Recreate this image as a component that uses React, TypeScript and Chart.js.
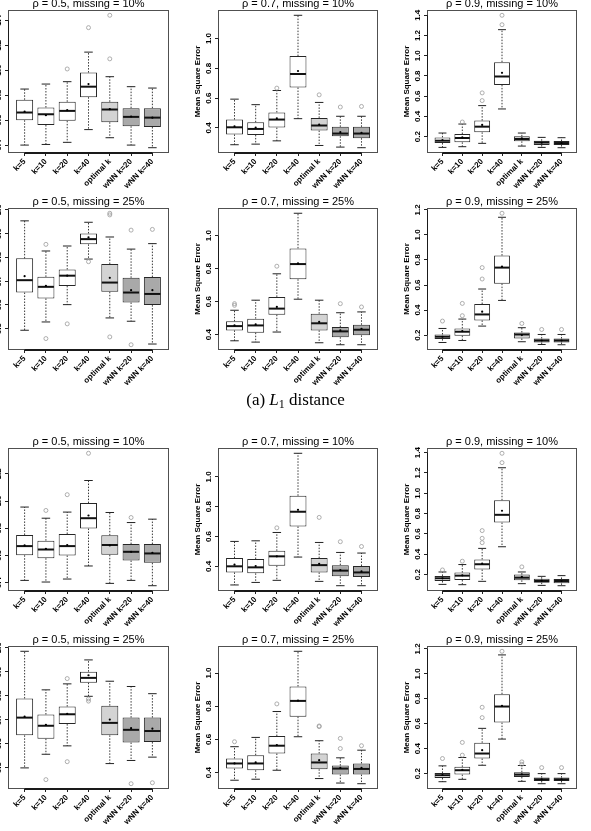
import React, { useEffect, useRef } from 'react';
import { Chart, registerables } from 'chart.js';

Chart.register(...registerables);

// ---- categories and fills -------------------------------------------------
const CATEGORIES = ['k=5', 'k=10', 'k=20', 'k=40', 'optimal k', 'wNN k=20', 'wNN k=40'];
const BOX_FILLS = ['#ffffff', '#ffffff', '#ffffff', '#ffffff', '#d3d3d3', '#a9a9a9', '#a9a9a9'];

// ---- (a) L1 distance -------------------------------------------------------
// rho = 0.5, missing = 10%
const A_R05_M10_LO = [0.400, 0.405, 0.422, 0.524, 0.459, 0.400, 0.379];
const A_R05_M10_Q1 = [0.599, 0.561, 0.594, 0.784, 0.583, 0.551, 0.545];
const A_R05_M10_MED = [0.661, 0.647, 0.674, 0.868, 0.685, 0.626, 0.620];
const A_R05_M10_Q3 = [0.763, 0.701, 0.747, 0.981, 0.747, 0.696, 0.696];
const A_R05_M10_HI = [0.849, 0.889, 0.908, 1.145, 0.948, 0.868, 0.857];
const A_R05_M10_MEAN = [0.669, 0.639, 0.680, 0.889, 0.688, 0.629, 0.620];
const A_R05_M10_OUT = [[], [], [1.010], [1.341], [1.091, 1.440], [], []];
const A_R05_M10_TICKS = [0.4, 0.6, 0.8, 1.0, 1.2, 1.4];

// rho = 0.7, missing = 10%
const A_R07_M10_LO = [0.287, 0.291, 0.313, 0.462, 0.282, 0.271, 0.267];
const A_R07_M10_Q1 = [0.356, 0.353, 0.402, 0.671, 0.382, 0.344, 0.331];
const A_R07_M10_MED = [0.404, 0.393, 0.456, 0.762, 0.416, 0.362, 0.362];
const A_R07_M10_Q3 = [0.456, 0.438, 0.504, 0.882, 0.467, 0.407, 0.407];
const A_R07_M10_HI = [0.593, 0.556, 0.651, 1.156, 0.571, 0.478, 0.478];
const A_R07_M10_MEAN = [0.411, 0.402, 0.464, 0.782, 0.422, 0.371, 0.367];
const A_R07_M10_OUT = [[], [], [0.667], [], [0.622], [0.540], [0.544]];
const A_R07_M10_TICKS = [0.4, 0.6, 0.8, 1.0];

// rho = 0.9, missing = 10%
const A_R09_M10_LO = [0.094, 0.101, 0.134, 0.474, 0.107, 0.094, 0.091];
const A_R09_M10_Q1 = [0.137, 0.144, 0.243, 0.712, 0.154, 0.117, 0.117];
const A_R09_M10_MED = [0.160, 0.187, 0.299, 0.795, 0.177, 0.144, 0.137];
const A_R09_M10_Q3 = [0.193, 0.226, 0.359, 0.937, 0.203, 0.160, 0.157];
const A_R09_M10_HI = [0.236, 0.325, 0.507, 1.258, 0.236, 0.193, 0.190];
const A_R09_M10_MEAN = [0.167, 0.193, 0.316, 0.831, 0.183, 0.140, 0.137];
const A_R09_M10_OUT = [[], [0.345], [0.557, 0.633], [1.307, 1.400], [], [], []];
const A_R09_M10_TICKS = [0.2, 0.4, 0.6, 0.8, 1.0, 1.2, 1.4];

// rho = 0.5, missing = 25%
const A_R05_M25_LO = [0.493, 0.528, 0.601, 0.793, 0.545, 0.531, 0.435];
const A_R05_M25_Q1 = [0.652, 0.627, 0.680, 0.855, 0.655, 0.610, 0.599];
const A_R05_M25_MED = [0.704, 0.676, 0.723, 0.877, 0.694, 0.652, 0.646];
const A_R05_M25_Q3 = [0.796, 0.718, 0.749, 0.901, 0.772, 0.714, 0.717];
const A_R05_M25_HI = [0.954, 0.827, 0.848, 0.948, 0.886, 0.835, 0.858];
const A_R05_M25_MEAN = [0.721, 0.680, 0.723, 0.885, 0.714, 0.662, 0.662];
const A_R05_M25_OUT = [[], [0.855, 0.458], [0.520], [0.782], [0.986, 0.979, 0.465], [0.915, 0.432], [0.918]];
const A_R05_M25_TICKS = [0.5, 0.6, 0.7, 0.8, 0.9, 1.0];

// rho = 0.7, missing = 25%
const A_R07_M25_LO = [0.363, 0.355, 0.416, 0.615, 0.351, 0.339, 0.339];
const A_R07_M25_Q1 = [0.426, 0.412, 0.521, 0.736, 0.426, 0.385, 0.396];
const A_R07_M25_MED = [0.452, 0.456, 0.558, 0.828, 0.469, 0.420, 0.430];
const A_R07_M25_Q3 = [0.481, 0.497, 0.629, 0.923, 0.527, 0.446, 0.460];
const A_R07_M25_HI = [0.548, 0.609, 0.769, 1.136, 0.609, 0.533, 0.538];
const A_R07_M25_MEAN = [0.456, 0.462, 0.568, 0.832, 0.477, 0.426, 0.436];
const A_R07_M25_OUT = [[0.588, 0.578], [], [0.815], [], [], [0.588], [0.568]];
const A_R07_M25_TICKS = [0.4, 0.6, 0.8, 1.0];

// rho = 0.9, missing = 25%
const A_R09_M25_LO = [0.141, 0.157, 0.272, 0.477, 0.147, 0.125, 0.123];
const A_R09_M25_Q1 = [0.168, 0.195, 0.317, 0.611, 0.173, 0.141, 0.141];
const A_R09_M25_MED = [0.187, 0.227, 0.365, 0.739, 0.205, 0.157, 0.157];
const A_R09_M25_Q3 = [0.205, 0.253, 0.448, 0.835, 0.221, 0.173, 0.173];
const A_R09_M25_HI = [0.253, 0.328, 0.568, 1.141, 0.259, 0.205, 0.205];
const A_R09_M25_MEAN = [0.187, 0.232, 0.387, 0.747, 0.200, 0.157, 0.157];
const A_R09_M25_OUT = [[0.312], [0.453, 0.355], [0.739, 0.648], [1.173], [0.293], [0.245], [0.245]];
const A_R09_M25_TICKS = [0.2, 0.4, 0.6, 0.8, 1.0, 1.2];

// ---- (b) second distance ---------------------------------------------------
// rho = 0.5, missing = 10%
const B_R05_M10_LO = [0.417, 0.405, 0.427, 0.523, 0.395, 0.417, 0.378];
const B_R05_M10_Q1 = [0.602, 0.580, 0.600, 0.798, 0.605, 0.563, 0.546];
const B_R05_M10_MED = [0.669, 0.644, 0.669, 0.874, 0.677, 0.627, 0.615];
const B_R05_M10_Q3 = [0.751, 0.709, 0.758, 0.985, 0.748, 0.684, 0.684];
const B_R05_M10_HI = [0.956, 0.874, 0.919, 1.151, 0.916, 0.842, 0.867];
const B_R05_M10_MEAN = [0.674, 0.649, 0.677, 0.894, 0.674, 0.627, 0.620];
const B_R05_M10_OUT = [[], [0.931], [1.047], [1.351], [], [0.879], []];
const B_R05_M10_TICKS = [0.4, 0.6, 0.8, 1.0, 1.2];

// rho = 0.7, missing = 10%
const B_R07_M10_LO = [0.275, 0.292, 0.306, 0.462, 0.299, 0.270, 0.270];
const B_R07_M10_Q1 = [0.359, 0.353, 0.404, 0.667, 0.359, 0.333, 0.328];
const B_R07_M10_MED = [0.400, 0.393, 0.467, 0.766, 0.408, 0.371, 0.359];
const B_R07_M10_Q3 = [0.455, 0.449, 0.504, 0.873, 0.455, 0.408, 0.402];
const B_R07_M10_HI = [0.567, 0.571, 0.627, 1.158, 0.560, 0.493, 0.489];
const B_R07_M10_MEAN = [0.411, 0.402, 0.467, 0.779, 0.417, 0.375, 0.366];
const B_R07_M10_OUT = [[], [], [0.658], [], [0.728], [0.565], [0.533]];
const B_R07_M10_TICKS = [0.4, 0.6, 0.8, 1.0];

// rho = 0.9, missing = 10%
const B_R09_M10_LO = [0.104, 0.101, 0.134, 0.474, 0.111, 0.094, 0.091];
const B_R09_M10_Q1 = [0.137, 0.147, 0.250, 0.712, 0.144, 0.121, 0.114];
const B_R09_M10_MED = [0.164, 0.190, 0.302, 0.788, 0.170, 0.137, 0.137];
const B_R09_M10_Q3 = [0.187, 0.220, 0.349, 0.931, 0.200, 0.160, 0.157];
const B_R09_M10_HI = [0.226, 0.299, 0.458, 1.251, 0.226, 0.183, 0.190];
const B_R09_M10_MEAN = [0.164, 0.193, 0.309, 0.828, 0.177, 0.140, 0.137];
const B_R09_M10_OUT = [[0.246], [0.332], [0.514, 0.557, 0.633], [1.301, 1.393], [0.276], [], []];
const B_R09_M10_TICKS = [0.2, 0.4, 0.6, 0.8, 1.0, 1.2, 1.4];

// rho = 0.5, missing = 25%
const B_R05_M25_LO = [0.499, 0.556, 0.591, 0.798, 0.517, 0.530, 0.544];
const B_R05_M25_Q1 = [0.635, 0.621, 0.682, 0.855, 0.635, 0.605, 0.607];
const B_R05_M25_MED = [0.709, 0.675, 0.723, 0.875, 0.687, 0.658, 0.653];
const B_R05_M25_Q3 = [0.789, 0.722, 0.755, 0.901, 0.759, 0.709, 0.709];
const B_R05_M25_HI = [0.986, 0.825, 0.850, 0.950, 0.861, 0.839, 0.809];
const B_R05_M25_MEAN = [0.713, 0.679, 0.725, 0.886, 0.701, 0.665, 0.663];
const B_R05_M25_OUT = [[], [0.450], [0.872, 0.525], [0.787, 0.778], [], [0.433], [0.437]];
const B_R05_M25_TICKS = [0.5, 0.6, 0.7, 0.8, 0.9, 1.0];

// rho = 0.7, missing = 25%
const B_R07_M25_LO = [0.354, 0.360, 0.414, 0.616, 0.364, 0.337, 0.333];
const B_R07_M25_Q1 = [0.424, 0.414, 0.515, 0.737, 0.420, 0.388, 0.388];
const B_R07_M25_MED = [0.455, 0.455, 0.562, 0.832, 0.461, 0.424, 0.422];
const B_R07_M25_Q3 = [0.485, 0.505, 0.620, 0.919, 0.515, 0.442, 0.455];
const B_R07_M25_HI = [0.556, 0.612, 0.768, 1.131, 0.592, 0.489, 0.535];
const B_R07_M25_MEAN = [0.455, 0.461, 0.566, 0.834, 0.475, 0.428, 0.428];
const B_R07_M25_OUT = [[0.586], [], [0.814], [], [0.681, 0.677], [0.606, 0.545], [0.562]];
const B_R07_M25_TICKS = [0.4, 0.6, 0.8, 1.0];

// rho = 0.9, missing = 25%
const B_R09_M25_LO = [0.135, 0.154, 0.267, 0.477, 0.138, 0.119, 0.119];
const B_R09_M25_Q1 = [0.165, 0.192, 0.321, 0.609, 0.173, 0.141, 0.141];
const B_R09_M25_MED = [0.187, 0.227, 0.361, 0.738, 0.192, 0.154, 0.154];
const B_R09_M25_Q3 = [0.205, 0.254, 0.447, 0.837, 0.211, 0.168, 0.168];
const B_R09_M25_HI = [0.262, 0.329, 0.563, 1.152, 0.265, 0.200, 0.200];
const B_R09_M25_MEAN = [0.189, 0.230, 0.388, 0.743, 0.195, 0.154, 0.154];
const B_R09_M25_OUT = [[0.321], [0.450, 0.348], [0.732, 0.649], [1.181], [0.294, 0.275], [0.248], [0.248]];
const B_R09_M25_TICKS = [0.2, 0.4, 0.6, 0.8, 1.0, 1.2];

// ---- panel assembly ----------------------------------------------------------
type Panel = {
  title: string;
  lo: number[];
  q1: number[];
  med: number[];
  q3: number[];
  hi: number[];
  mean: number[];
  out: number[][];
  ticks: number[];
  row: number;
  col: number;
};

const PANELS: Panel[] = [
  { title: 'ρ = 0.5, missing = 10%', lo: A_R05_M10_LO, q1: A_R05_M10_Q1, med: A_R05_M10_MED, q3: A_R05_M10_Q3, hi: A_R05_M10_HI, mean: A_R05_M10_MEAN, out: A_R05_M10_OUT, ticks: A_R05_M10_TICKS, row: 0, col: 0 },
  { title: 'ρ = 0.7, missing = 10%', lo: A_R07_M10_LO, q1: A_R07_M10_Q1, med: A_R07_M10_MED, q3: A_R07_M10_Q3, hi: A_R07_M10_HI, mean: A_R07_M10_MEAN, out: A_R07_M10_OUT, ticks: A_R07_M10_TICKS, row: 0, col: 1 },
  { title: 'ρ = 0.9, missing = 10%', lo: A_R09_M10_LO, q1: A_R09_M10_Q1, med: A_R09_M10_MED, q3: A_R09_M10_Q3, hi: A_R09_M10_HI, mean: A_R09_M10_MEAN, out: A_R09_M10_OUT, ticks: A_R09_M10_TICKS, row: 0, col: 2 },
  { title: 'ρ = 0.5, missing = 25%', lo: A_R05_M25_LO, q1: A_R05_M25_Q1, med: A_R05_M25_MED, q3: A_R05_M25_Q3, hi: A_R05_M25_HI, mean: A_R05_M25_MEAN, out: A_R05_M25_OUT, ticks: A_R05_M25_TICKS, row: 1, col: 0 },
  { title: 'ρ = 0.7, missing = 25%', lo: A_R07_M25_LO, q1: A_R07_M25_Q1, med: A_R07_M25_MED, q3: A_R07_M25_Q3, hi: A_R07_M25_HI, mean: A_R07_M25_MEAN, out: A_R07_M25_OUT, ticks: A_R07_M25_TICKS, row: 1, col: 1 },
  { title: 'ρ = 0.9, missing = 25%', lo: A_R09_M25_LO, q1: A_R09_M25_Q1, med: A_R09_M25_MED, q3: A_R09_M25_Q3, hi: A_R09_M25_HI, mean: A_R09_M25_MEAN, out: A_R09_M25_OUT, ticks: A_R09_M25_TICKS, row: 1, col: 2 },
  { title: 'ρ = 0.5, missing = 10%', lo: B_R05_M10_LO, q1: B_R05_M10_Q1, med: B_R05_M10_MED, q3: B_R05_M10_Q3, hi: B_R05_M10_HI, mean: B_R05_M10_MEAN, out: B_R05_M10_OUT, ticks: B_R05_M10_TICKS, row: 2, col: 0 },
  { title: 'ρ = 0.7, missing = 10%', lo: B_R07_M10_LO, q1: B_R07_M10_Q1, med: B_R07_M10_MED, q3: B_R07_M10_Q3, hi: B_R07_M10_HI, mean: B_R07_M10_MEAN, out: B_R07_M10_OUT, ticks: B_R07_M10_TICKS, row: 2, col: 1 },
  { title: 'ρ = 0.9, missing = 10%', lo: B_R09_M10_LO, q1: B_R09_M10_Q1, med: B_R09_M10_MED, q3: B_R09_M10_Q3, hi: B_R09_M10_HI, mean: B_R09_M10_MEAN, out: B_R09_M10_OUT, ticks: B_R09_M10_TICKS, row: 2, col: 2 },
  { title: 'ρ = 0.5, missing = 25%', lo: B_R05_M25_LO, q1: B_R05_M25_Q1, med: B_R05_M25_MED, q3: B_R05_M25_Q3, hi: B_R05_M25_HI, mean: B_R05_M25_MEAN, out: B_R05_M25_OUT, ticks: B_R05_M25_TICKS, row: 3, col: 0 },
  { title: 'ρ = 0.7, missing = 25%', lo: B_R07_M25_LO, q1: B_R07_M25_Q1, med: B_R07_M25_MED, q3: B_R07_M25_Q3, hi: B_R07_M25_HI, mean: B_R07_M25_MEAN, out: B_R07_M25_OUT, ticks: B_R07_M25_TICKS, row: 3, col: 1 },
  { title: 'ρ = 0.9, missing = 25%', lo: B_R09_M25_LO, q1: B_R09_M25_Q1, med: B_R09_M25_MED, q3: B_R09_M25_Q3, hi: B_R09_M25_HI, mean: B_R09_M25_MEAN, out: B_R09_M25_OUT, ticks: B_R09_M25_TICKS, row: 3, col: 2 },
];

// ---- layout (plot-region edges in page pixels) -------------------------------
const COL_EDGES = [[8, 169], [218, 378], [427, 577]];
const ROW_EDGES = [[10, 153], [208, 350], [448, 591], [646, 789]];
const AXIS_W = 45;
const AXIS_H = 45;
const PAD_TOP = 20;
const PAD_RIGHT = 8;

const SANS = '"Liberation Sans", Arial, Helvetica, sans-serif';

function makeDecor(p: Panel) {
  return {
    id: 'boxDecor',
    afterDatasetDraw(chart: any, args: any) {
      if (args.meta.type !== 'bar') return;
      const { ctx } = chart;
      const xs = chart.scales.x;
      const ys = chart.scales.y;
      args.meta.data.forEach((el: any, i: number) => {
        const cx = xs.getPixelForValue(i + 1);
        const half = el.width / 2;
        const cap = half / 2;
        const yLo = ys.getPixelForValue(p.lo[i]);
        const yHi = ys.getPixelForValue(p.hi[i]);
        const yQ1 = ys.getPixelForValue(p.q1[i]);
        const yQ3 = ys.getPixelForValue(p.q3[i]);
        const yMed = ys.getPixelForValue(p.med[i]);
        ctx.save();
        // dashed whiskers
        ctx.strokeStyle = '#3a3a3a';
        ctx.lineWidth = 1;
        ctx.setLineDash([1.5, 1.5]);
        ctx.beginPath();
        ctx.moveTo(cx, yQ3);
        ctx.lineTo(cx, yHi);
        ctx.moveTo(cx, yQ1);
        ctx.lineTo(cx, yLo);
        ctx.stroke();
        // whisker staples
        ctx.setLineDash([]);
        ctx.strokeStyle = '#222';
        ctx.beginPath();
        ctx.moveTo(cx - cap, yHi);
        ctx.lineTo(cx + cap, yHi);
        ctx.moveTo(cx - cap, yLo);
        ctx.lineTo(cx + cap, yLo);
        ctx.stroke();
        // median
        ctx.lineWidth = 2;
        ctx.strokeStyle = '#111';
        ctx.beginPath();
        ctx.moveTo(cx - half + 0.5, yMed);
        ctx.lineTo(cx + half - 0.5, yMed);
        ctx.stroke();
        ctx.restore();
      });
    },
    afterDraw(chart: any) {
      const { ctx, chartArea: a } = chart;
      const xs = chart.scales.x;
      const ys = chart.scales.y;
      ctx.save();
      // plot frame
      ctx.strokeStyle = '#505050';
      ctx.lineWidth = 1;
      ctx.strokeRect(a.left + 0.5, a.top + 0.5, a.right - a.left - 1, a.bottom - a.top - 1);
      // axis lines spanning the first to last tick
      ctx.strokeStyle = '#1a1a1a';
      ctx.lineWidth = 2;
      ctx.beginPath();
      ctx.moveTo(xs.getPixelForValue(1), a.bottom);
      ctx.lineTo(xs.getPixelForValue(CATEGORIES.length), a.bottom);
      ctx.stroke();
      ctx.lineWidth = 1;
      ctx.beginPath();
      ctx.moveTo(a.left + 0.5, ys.getPixelForValue(p.ticks[0]));
      ctx.lineTo(a.left + 0.5, ys.getPixelForValue(p.ticks[p.ticks.length - 1]));
      ctx.stroke();
      // y tick labels, parallel to the axis
      ctx.fillStyle = '#000';
      ctx.font = `bold 8px ${SANS}`;
      ctx.textAlign = 'center';
      ctx.textBaseline = 'middle';
      p.ticks.forEach((v) => {
        ctx.save();
        ctx.translate(a.left - 9, ys.getPixelForValue(v));
        ctx.rotate(-Math.PI / 2);
        ctx.fillText(v.toFixed(1), 0, 0);
        ctx.restore();
      });
      // y axis title
      ctx.save();
      ctx.translate(a.left - 20, (a.top + a.bottom) / 2);
      ctx.rotate(-Math.PI / 2);
      ctx.font = `bold 8px ${SANS}`;
      ctx.fillText('Mean Square Error', 0, 0);
      ctx.restore();
      // panel title
      ctx.font = `11px ${SANS}`;
      ctx.fillText(p.title, (a.left + a.right) / 2, a.top - 6);
      ctx.restore();
    },
  };
}

function BoxPanel({ p }: { p: Panel }) {
  const ref = useRef<HTMLCanvasElement | null>(null);
  const [bl, br] = COL_EDGES[p.col];
  const [bt, bb] = ROW_EDGES[p.row];
  const width = br - bl + AXIS_W + PAD_RIGHT;
  const height = bb - bt + PAD_TOP + AXIS_H;

  useEffect(() => {
    if (!ref.current) return;
    const n = CATEGORIES.length;
    const all = [...p.lo, ...p.hi, ...p.out.flat()];
    const vmin = Math.min(...all);
    const vmax = Math.max(...all);
    const yPad = (vmax - vmin) * 0.04;
    const xPad = n * 0.04;

    const chart = new Chart(ref.current, {
      type: 'bar',
      data: {
        datasets: [
          {
            type: 'bar',
            data: CATEGORIES.map((_, i) => ({ x: i + 1, y: [p.q1[i], p.q3[i]] })) as any,
            backgroundColor: BOX_FILLS,
            borderColor: '#262626',
            borderWidth: 1,
            borderSkipped: false,
            barPercentage: 0.8,
            categoryPercentage: 1,
            order: 3,
          },
          {
            type: 'scatter',
            data: p.out.flatMap((vals, i) => vals.map((v) => ({ x: i + 1, y: v }))),
            pointRadius: 2,
            pointBorderColor: '#9a9a9a',
            pointBackgroundColor: 'rgba(0,0,0,0)',
            pointBorderWidth: 0.8,
            order: 2,
          },
          {
            type: 'scatter',
            data: p.mean.map((v, i) => ({ x: i + 1, y: v })),
            pointRadius: 1.1,
            pointBackgroundColor: '#000',
            pointBorderWidth: 0,
            order: 1,
          },
        ] as any,
      },
      options: {
        responsive: false,
        animation: false,
        events: [],
        layout: { padding: { left: 0, top: PAD_TOP, right: PAD_RIGHT, bottom: 0 }, autoPadding: false } as any,
        plugins: {
          legend: { display: false },
          tooltip: { enabled: false },
          title: { display: false },
        },
        scales: {
          x: {
            type: 'linear',
            min: 0.5 - xPad,
            max: n + 0.5 + xPad,
            offset: false,
            grid: { display: true, drawOnChartArea: false, drawTicks: true, tickLength: 3, color: '#222', offset: false },
            border: { display: false },
            afterBuildTicks: (s: any) => {
              s.ticks = CATEGORIES.map((_, i) => ({ value: i + 1 }));
            },
            afterFit: (s: any) => {
              s.height = AXIS_H;
            },
            ticks: {
              autoSkip: false,
              minRotation: 45,
              maxRotation: 45,
              padding: 1,
              color: '#000',
              font: { family: SANS, size: 8, weight: 'bold' },
              callback: (v: any) => CATEGORIES[Math.round(Number(v)) - 1] ?? '',
            },
          },
          y: {
            type: 'linear',
            min: vmin - yPad,
            max: vmax + yPad,
            beginAtZero: false,
            grid: { display: true, drawOnChartArea: false, drawTicks: true, tickLength: 3, color: '#222' },
            border: { display: false },
            afterBuildTicks: (s: any) => {
              s.ticks = p.ticks.map((v) => ({ value: v }));
            },
            afterFit: (s: any) => {
              s.width = AXIS_W;
            },
            ticks: { display: false },
          },
        } as any,
      },
      plugins: [makeDecor(p)],
    });
    return () => chart.destroy();
  }, [p]);

  return (
    <canvas
      ref={ref}
      width={width}
      height={height}
      style={{
        position: 'absolute',
        left: bl - AXIS_W,
        top: bt - PAD_TOP,
        width,
        height,
      }}
    />
  );
}

export default function App() {
  return (
    <div
      style={{
        position: 'absolute',
        left: 0,
        top: 0,
        width: 591,
        height: 831,
        overflow: 'hidden',
        background: '#ffffff',
      }}
    >
      {PANELS.map((p, i) => (
        <BoxPanel key={i} p={p} />
      ))}
      <div
        style={{
          position: 'absolute',
          left: 0,
          top: 390,
          width: 591,
          textAlign: 'center',
          fontFamily: '"Liberation Serif", "DejaVu Serif", serif',
          fontSize: 17,
          lineHeight: '20px',
          color: '#000',
        }}
      >
        (a) <i>L</i>
        <sub style={{ fontSize: 12, lineHeight: 0, verticalAlign: '-3px' }}>1</sub> distance
      </div>
    </div>
  );
}
